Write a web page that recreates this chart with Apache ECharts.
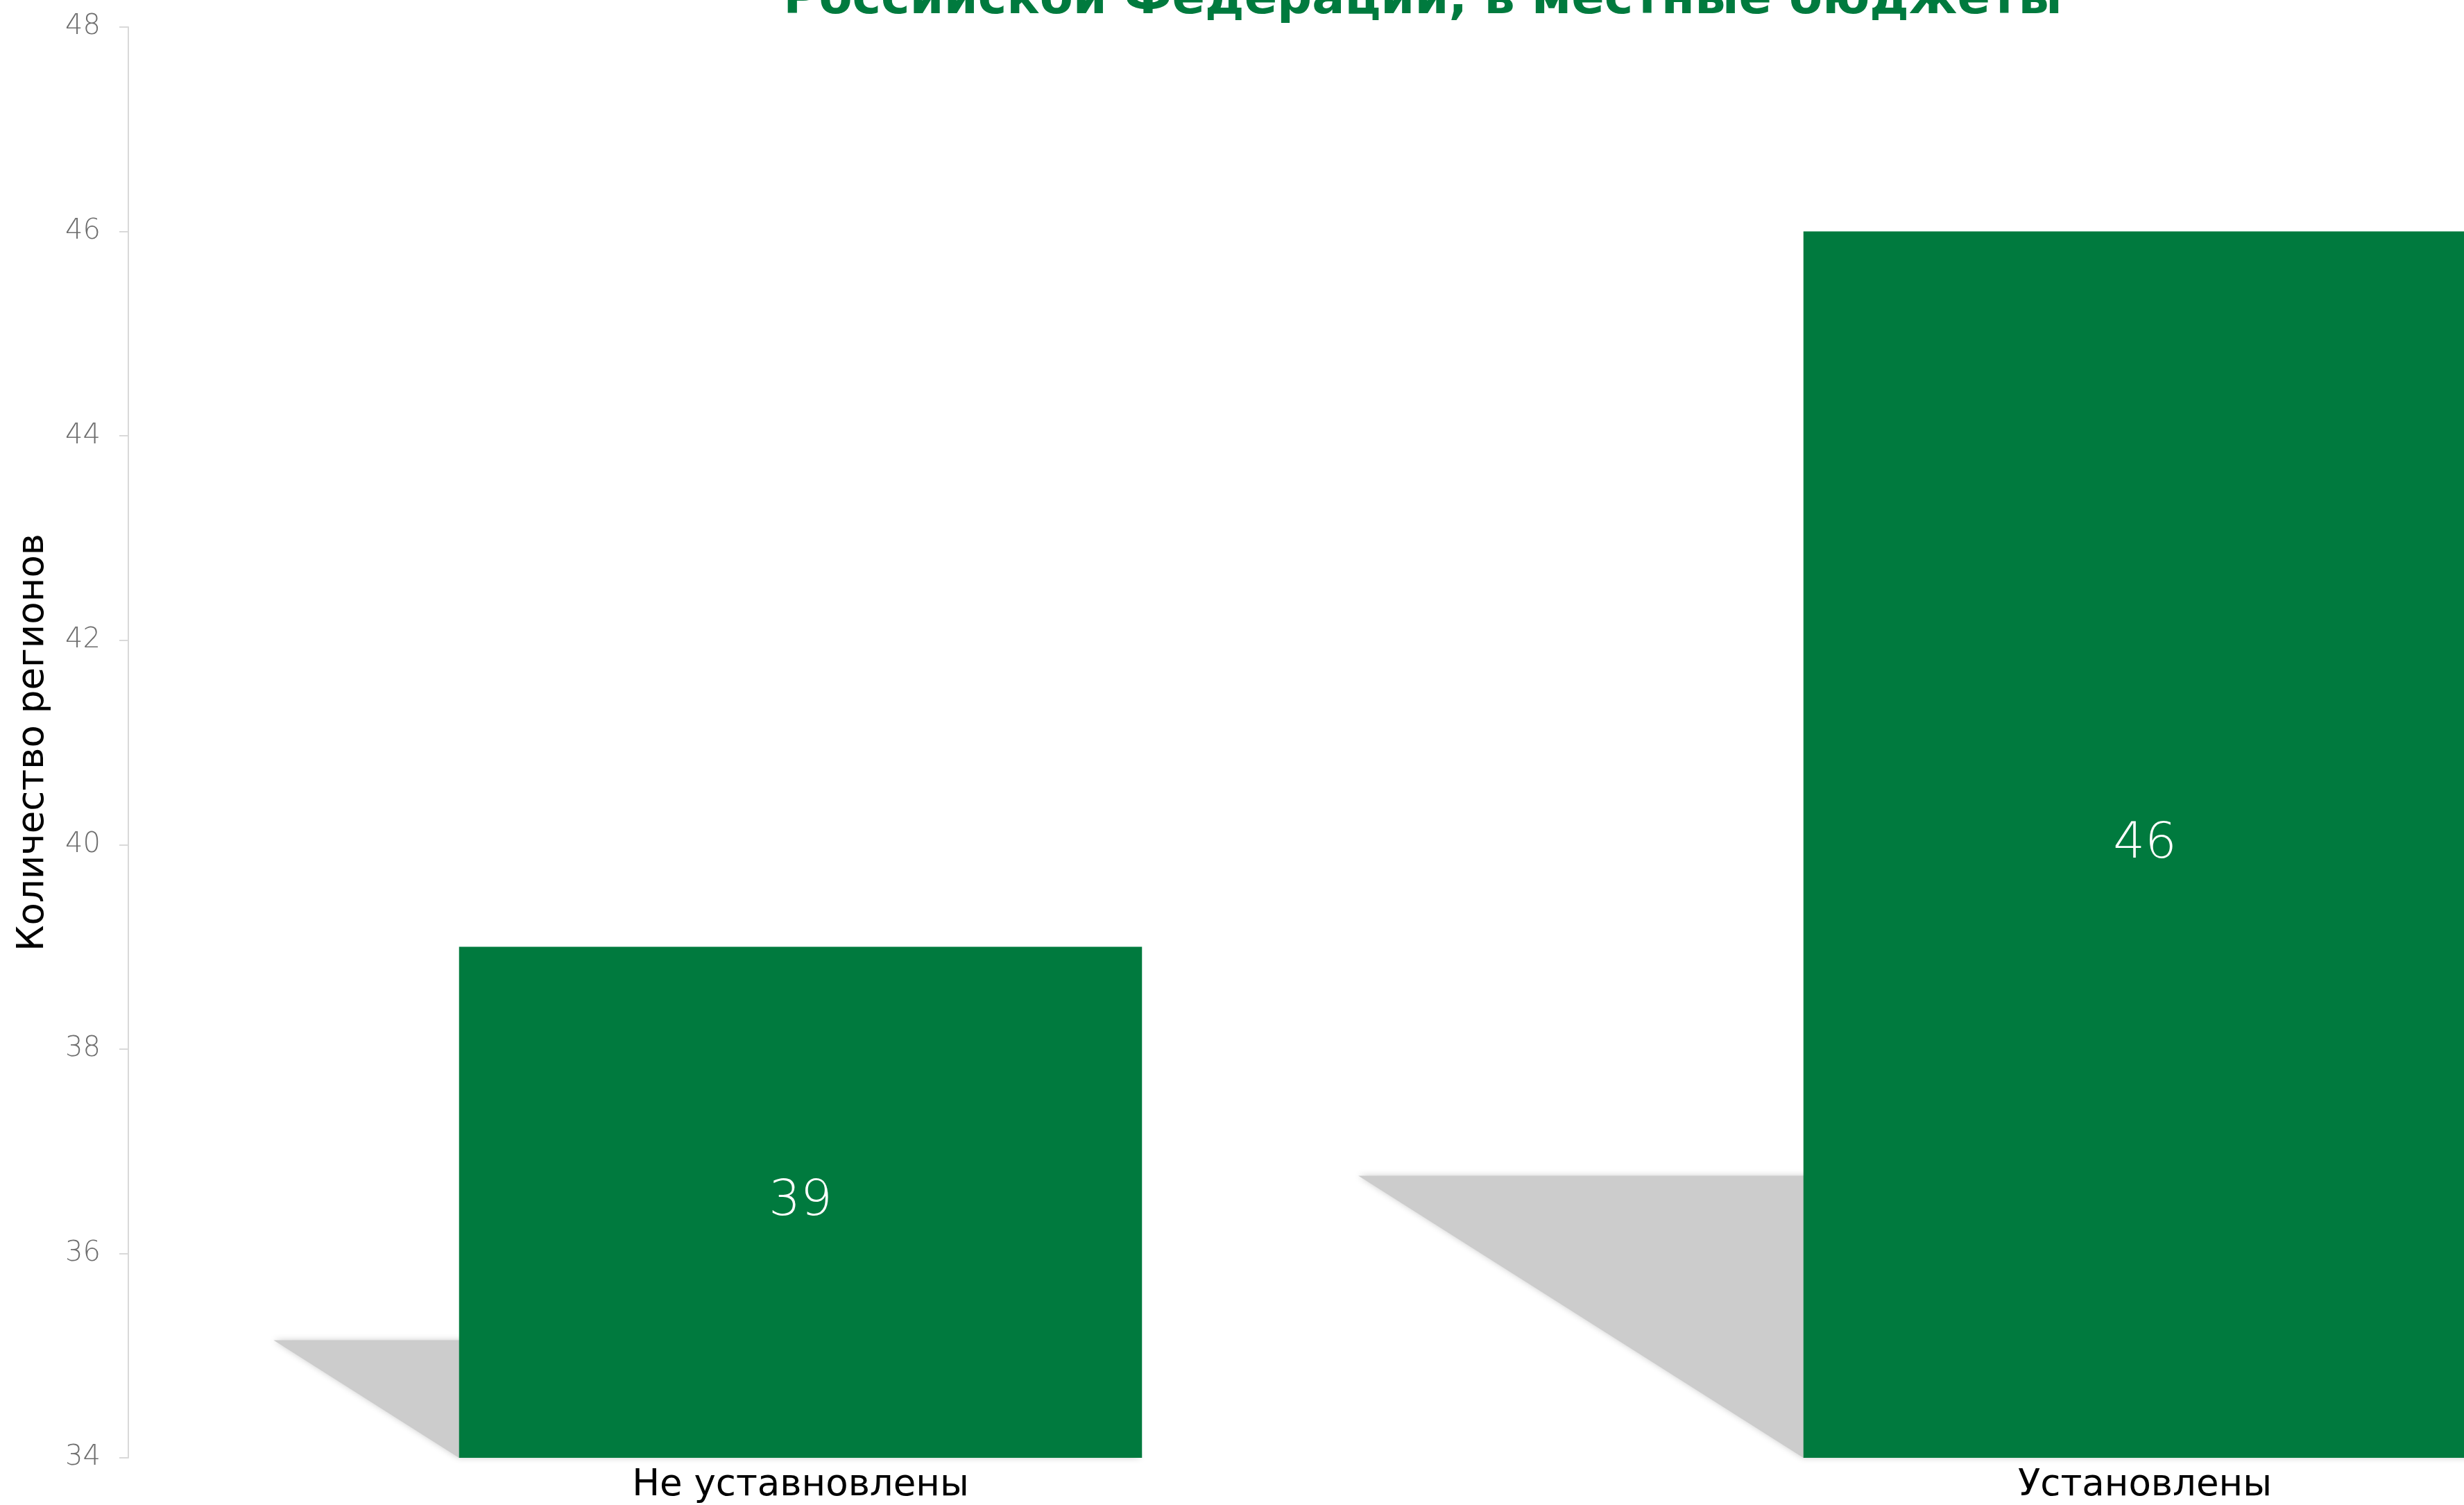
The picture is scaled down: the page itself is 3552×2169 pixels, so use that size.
<!DOCTYPE html>
<html><head><meta charset="utf-8">
<script src="https://cdn.jsdelivr.net/npm/echarts@6/dist/echarts.min.js"></script>
<style>html,body{margin:0;padding:0;background:#fff}#c{width:3552px;height:2169px}</style>
</head><body><div id="c"></div>
<script>
const categories = ['Не уставновлены', 'Установлены'];
const values = [39, 46];
const yMin = 34, yMax = 48, yStep = 2;
const titleText = 'Российской Федерации, в местные бюджеты';
const yAxisName = 'Количество регионов';

const FONT = '"DejaVu Sans", sans-serif';
const GREEN = '#007a3e';
const BAR_RATIO = 0.508;
const SHADOW_H = 0.23;
const SHADOW_SKEW = 0.363;

const chart = echarts.init(document.getElementById('c'));
chart.setOption({
  animation: false,
  backgroundColor: '#ffffff',
  title: {
    text: titleText,
    left: 2051, top: -34, textAlign: 'center', padding: 0,
    textStyle: {color: GREEN, fontSize: 70, fontWeight: 'bold', fontFamily: FONT}
  },
  grid: {left: 185, width: 3876, top: 39, bottom: 68, containLabel: false, outerBoundsMode: 'none'},
  xAxis: {
    type: 'category', data: categories,
    axisLine: {show: false}, axisTick: {show: false},
    axisLabel: {color: '#000000', fontSize: 53, margin: 14, fontFamily: FONT}
  },
  yAxis: {
    type: 'value', min: yMin, max: yMax, interval: yStep,
    name: yAxisName, nameLocation: 'middle', nameGap: 110,
    nameTextStyle: {color: '#000000', fontSize: 53, fontFamily: FONT},
    axisLine: {show: true, lineStyle: {color: '#d9d9d9', width: 2}},
    axisTick: {show: true, length: 13, lineStyle: {color: '#d9d9d9', width: 2}},
    splitLine: {show: false},
    axisLabel: {color: '#6e6e6e', fontSize: 40, margin: 40, fontFamily: FONT, fontWeight: 300}
  },
  series: [
    {
      type: 'custom', z: 1, silent: true,
      data: values.map((v, i) => [i, v]),
      renderItem: function (params, api) {
        const idx = api.value(0), v = api.value(1);
        const base = api.coord([idx, yMin]);
        const top = api.coord([idx, v]);
        const bw = api.size([1, 0])[0] * BAR_RATIO;
        const h = base[1] - top[1];
        const dy = h * SHADOW_H, dx = h * SHADOW_SKEW;
        const xl = base[0] - bw / 2, xr = base[0] + bw / 2;
        return {
          type: 'polygon',
          shape: {points: [[xl, base[1]], [xl - dx, base[1] - dy], [xr - dx, base[1] - dy], [xr, base[1]]]},
          style: {fill: '#cccccc', shadowBlur: 10, shadowColor: '#cccccc'}
        };
      }
    },
    {
      type: 'bar', z: 2, data: values, barWidth: (BAR_RATIO * 100) + '%',
      itemStyle: {color: GREEN},
      label: {show: true, position: 'inside', color: '#ffffff', fontSize: 72, fontFamily: FONT, fontWeight: 300}
    }
  ]
});
</script></body></html>
